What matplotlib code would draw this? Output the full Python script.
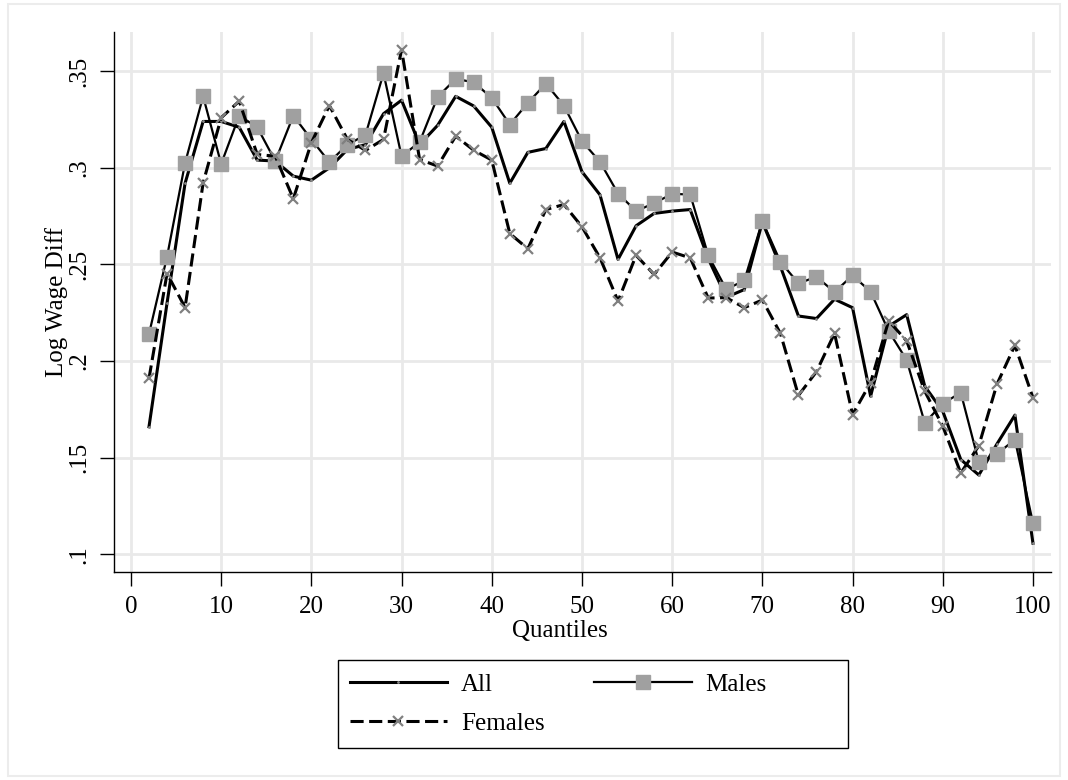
import matplotlib
matplotlib.use("Agg")
import matplotlib.pyplot as plt
from matplotlib.patches import Rectangle

# ==========================================================
# DATA
# ==========================================================

quantiles = list(range(2, 101, 2))

all_diff = [
    0.166, 0.230, 0.292, 0.324, 0.324, 0.321, 0.304, 0.3035, 0.2957, 0.2936,
    0.300, 0.3095, 0.312, 0.328, 0.335, 0.312, 0.322, 0.337, 0.332, 0.321,
    0.292, 0.308, 0.310, 0.324, 0.298, 0.286, 0.2526, 0.270, 0.2764, 0.2776,
    0.2784, 0.253, 0.233, 0.237, 0.272, 0.249, 0.2233, 0.222, 0.232, 0.2276,
    0.1818, 0.218, 0.224, 0.187, 0.174, 0.149, 0.141, 0.157, 0.172, 0.1057,
]

males_diff = [
    0.214, 0.254, 0.3025, 0.337, 0.302, 0.327, 0.321, 0.3035, 0.327, 0.3147,
    0.303, 0.312, 0.317, 0.349, 0.306, 0.3133, 0.3367, 0.346, 0.3443, 0.3362,
    0.3224, 0.3336, 0.3436, 0.3322, 0.3138, 0.3031, 0.2867, 0.2776, 0.2817, 0.2865,
    0.2862, 0.2547, 0.2371, 0.2417, 0.2724, 0.2514, 0.2402, 0.2436, 0.2357, 0.2443,
    0.2359, 0.2155, 0.2005, 0.168, 0.178, 0.1836, 0.1476, 0.1519, 0.1593, 0.1161,
]

females_diff = [
    0.191, 0.2453, 0.2277, 0.2922, 0.3259, 0.3345, 0.3069, 0.306, 0.284, 0.313,
    0.3322, 0.3147, 0.309, 0.3147, 0.3612, 0.3043, 0.3009, 0.3164, 0.3091, 0.304,
    0.266, 0.2581, 0.2784, 0.281, 0.2695, 0.2534, 0.231, 0.2547, 0.2448, 0.2564,
    0.2534, 0.2326, 0.2328, 0.2276, 0.2316, 0.2143, 0.1822, 0.1945, 0.2143, 0.1723,
    0.1888, 0.2208, 0.2104, 0.1844, 0.1663, 0.142, 0.1562, 0.1879, 0.2081, 0.181,
]

x_ticks = list(range(0, 101, 10))
y_ticks = [0.1, 0.15, 0.2, 0.25, 0.3, 0.35]
y_tick_labels = [".1", ".15", ".2", ".25", ".3", ".35"]

# ==========================================================
# STYLE
# ==========================================================

plt.rcParams["font.family"] = ["Liberation Serif", "DejaVu Serif"]
plt.rcParams["font.size"] = 18

grid_color = "#e9e9e9"

# ==========================================================
# PLOT
# ==========================================================

fig = plt.figure(figsize=(10.68, 7.8), dpi=100)
ax = fig.add_axes([114 / 1068, 1 - 572 / 780, 937 / 1068, 540 / 780])

line_all, = ax.plot(
    quantiles, all_diff,
    color="black", linewidth=2.2,
    marker=".", markersize=2, markerfacecolor="#888888", markeredgecolor="#888888",
    label="All", zorder=3
)

line_males, = ax.plot(
    quantiles, males_diff,
    color="black", linewidth=1.6,
    marker="s", markersize=9.5, markerfacecolor="#a0a0a0", markeredgecolor="#a0a0a0",
    label="Males", zorder=4
)

line_females, = ax.plot(
    quantiles, females_diff,
    color="black", linewidth=2.2, linestyle=(0, (4.3, 1.8)),
    marker="x", markersize=6.5, markeredgewidth=1.6, markeredgecolor="#808080",
    label="Females", zorder=5
)

ax.set_xlim(-1.88, 102.0)
ax.set_ylim(0.0908, 0.3703)

ax.set_xticks(x_ticks)
ax.set_yticks(y_ticks)
ax.set_yticklabels(y_tick_labels, rotation=90, va="center")

ax.tick_params(axis="both", direction="out", length=10, width=1, colors="black")
ax.tick_params(axis="x", pad=7)
ax.tick_params(axis="y", pad=7)

ax.grid(True, color=grid_color, linewidth=2)
ax.set_axisbelow(True)

for side in ["top", "right"]:
    ax.spines[side].set_visible(False)
for side in ["left", "bottom"]:
    ax.spines[side].set_linewidth(1)
    ax.spines[side].set_color("black")

ax.set_xlabel("Quantiles")
ax.xaxis.set_label_coords((560 - 114) / 937, (572 - 620) / 540)
ax.xaxis.label.set_va("top")

ax.set_ylabel("Log Wage Diff")
ax.yaxis.set_label_coords((68 - 114) / 937, 0.5)

# ==========================================================
# LEGEND
# ==========================================================

# column-major fill: col 1 = All, Females ; col 2 = Males
leg = fig.legend(
    [line_all, line_females, line_males],
    ["All", "Females", "Males"],
    ncol=2, frameon=False,
    loc="center left",
    bbox_to_anchor=(327 / 1068, 1 - 704 / 780),
    handlelength=3.9, handletextpad=0.55, columnspacing=2.0,
    labelspacing=0.65, borderpad=0.4, fontsize=18
)

fig.patches.append(Rectangle(
    (338 / 1068, 1 - 748 / 780), 510 / 1068, 88 / 780,
    transform=fig.transFigure, fill=False, edgecolor="black", linewidth=1
))

# outer graph region outline
fig.patches.append(Rectangle(
    (8 / 1068, 4 / 780), 1052 / 1068, 772 / 780,
    transform=fig.transFigure, fill=False, edgecolor="#ececec", linewidth=1.5
))

# ==========================================================
# SAVE
# ==========================================================

fig.savefig("out.png", dpi=100)
